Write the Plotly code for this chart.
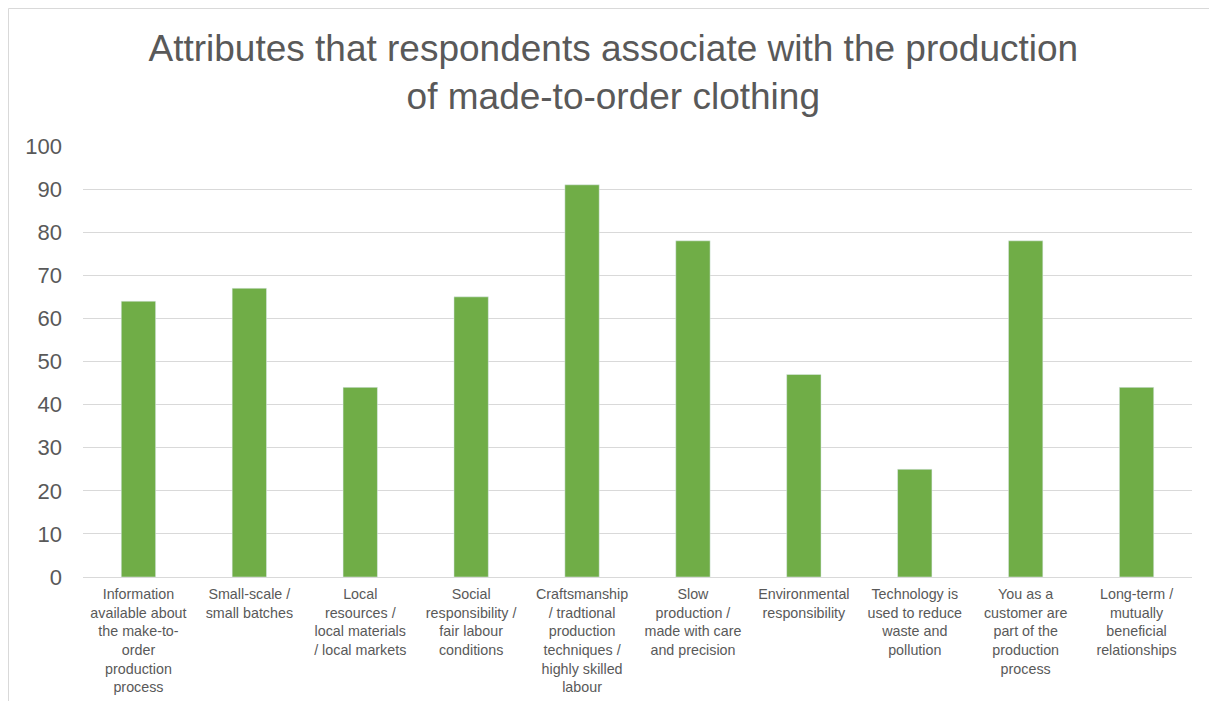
import plotly.graph_objects as go

categories = [
    "Information<br>available about<br>the make-to-<br>order<br>production<br>process",
    "Small-scale /<br>small batches",
    "Local<br>resources /<br>local materials<br>/ local markets",
    "Social<br>responsibility /<br>fair labour<br>conditions",
    "Craftsmanship<br>/ tradtional<br>production<br>techniques /<br>highly skilled<br>labour",
    "Slow<br>production /<br>made with care<br>and precision",
    "Environmental<br>responsibility",
    "Technology is<br>used to reduce<br>waste and<br>pollution",
    "You as a<br>customer are<br>part of the<br>production<br>process",
    "Long-term /<br>mutually<br>beneficial<br>relationships",
]
values = [64, 67, 44, 65, 91, 78, 47, 25, 78, 44]
y_ticks = list(range(0, 101, 10))

W, H = 1201, 693
L, R, T, B = 75, 17, 138, 124
pw, ph = W - L - R, H - T - B

fig = go.Figure(go.Bar(x=categories, y=values, marker_color="#70AD47", width=0.31))

grey = "#595959"
fig.update_layout(
    width=W, height=H,
    margin=dict(l=L, r=R, t=T, b=B, autoexpand=False),
    paper_bgcolor="white", plot_bgcolor="white",
    font=dict(family="Liberation Sans, Arial", color=grey),
    title=dict(
        text="Attributes that respondents associate with the production<br>of made-to-order clothing",
        x=0.504, xref="container", xanchor="center",
        y=0.923, yref="container", yanchor="top",
        font=dict(size=37, color=grey, family="Liberation Sans, Arial"),
    ),
    showlegend=False,
    xaxis=dict(
        showgrid=False, showline=True, linecolor="#d9d9d9", linewidth=1,
        tickfont=dict(size=14.3, color=grey), tickangle=0, automargin=False,
        ticks="", ticklabelstandoff=4,
    ),
    yaxis=dict(
        range=[0, 100], tickvals=y_ticks, showgrid=True, gridcolor="#d9d9d9",
        gridwidth=1, zeroline=False, showline=False,
        tickfont=dict(size=22, color=grey), automargin=False,
        ticklabelstandoff=20,
    ),
    shapes=[dict(
        type="rect", xref="paper", yref="paper",
        x0=(0.5 - L) / pw, x1=(W + 20 - L) / pw,
        y0=-(H + 20 - T - ph) / ph, y1=(T + ph - 0.5) / ph,
        line=dict(color="#d9d9d9", width=1), fillcolor="rgba(0,0,0,0)",
        layer="below",
    )],
)

fig.write_html("out.html")
